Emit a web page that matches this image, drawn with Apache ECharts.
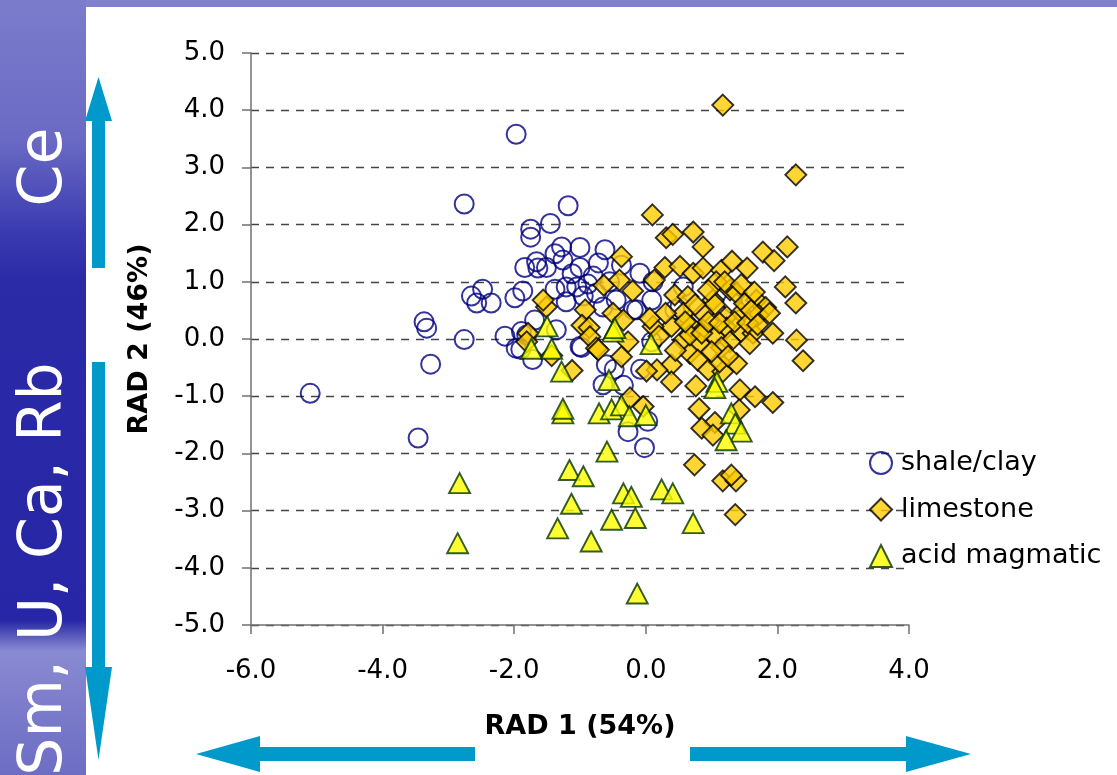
<!DOCTYPE html>
<html><head><meta charset="utf-8">
<script src="https://cdn.jsdelivr.net/npm/echarts@6/dist/echarts.min.js"></script>
<style>html,body{margin:0;padding:0;background:#fff}#c{width:1117px;height:775px}</style>
</head><body><div id="c"></div>
<script>
// ---- data ----
const seriesNames = ['shale/clay', 'limestone', 'acid magmatic'];
const xAxisName = 'RAD 1 (54%)';
const yAxisName = 'RAD 2 (46%)';
const xTickLabels = ['-6.0', '-4.0', '-2.0', '0.0', '2.0', '4.0'];
const yTickLabels = ['-5.0', '-4.0', '-3.0', '-2.0', '-1.0', '0.0', '1.0', '2.0', '3.0', '4.0', '5.0'];
const sideTextUp = 'Ce';
const sideTextDown = 'Sm, U, Ca, Rb';

const shaleClay = [
  [-5.10,-0.95],[-3.46,-1.73],[-3.37,0.30],[-3.33,0.19],[-3.27,-0.44],[-2.76,2.36],[-2.76,-0.01],
  [-2.65,0.75],[-2.48,0.87],[-2.57,0.63],[-2.35,0.63],[-1.97,3.58],[-2.14,0.05],[-1.99,0.72],
  [-1.87,0.84],[-1.84,1.25],[-1.75,1.92],[-1.75,1.78],[-1.45,2.02],[-1.18,2.33],[-1.28,1.61],
  [-1.00,1.60],[-0.62,1.56],[-1.38,1.49],[-1.26,1.38],[-1.51,1.25],[-1.64,1.24],[-1.00,1.25],
  [-0.72,1.33],[-0.37,1.29],[-1.38,0.87],[-1.21,0.91],[-1.05,0.91],[-0.88,0.96],[-1.21,0.65],
  [-0.45,0.68],[-0.65,0.56],[-0.19,0.51],[-1.69,0.33],[-1.36,0.16],[-1.89,0.13],[-1.81,0.07],
  [-1.90,-0.18],[-1.72,-0.36],[-0.98,-0.15],[-0.09,1.15],[0.09,0.68],[-0.14,0.51],[0.44,0.51],
  [-0.60,-0.45],[-0.48,-0.53],[-0.65,-0.80],[-0.34,-0.81],[-0.08,-0.53],[0.03,-1.44],[-0.27,-1.62],
  [-0.02,-1.90],[0.09,-0.05],[0.57,0.91],[0.52,0.56],[1.32,0.63],[-1.66,1.35],[0.11,1.00],
  [-1.12,1.14],[-0.80,1.10],[-0.55,1.00],[-0.95,0.75],[-0.75,0.80],[-1.97,-0.16],[-1.00,-0.13]
];
const limestone = [
  [1.17,4.09],[2.28,2.87],[0.10,2.17],[0.31,1.77],[0.41,1.83],[0.72,1.87],[0.87,1.61],[1.78,1.52],
  [1.95,1.37],[2.15,1.61],[2.12,0.91],[2.28,0.63],[2.29,-0.02],[2.39,-0.38],[0.13,1.03],[0.29,1.25],
  [0.52,1.27],[0.72,1.15],[0.87,1.24],[1.15,1.20],[1.31,1.36],[1.54,1.24],[1.07,1.00],[1.28,0.86],
  [1.38,0.80],[0.44,0.77],[0.64,0.74],[1.02,0.68],[1.05,0.60],[1.68,0.68],[1.82,0.55],[0.57,0.45],
  [0.87,0.45],[1.23,0.39],[1.45,0.46],[1.71,0.42],[1.88,0.45],[0.39,0.22],[0.69,0.22],[0.87,0.16],
  [1.23,0.19],[1.45,0.13],[1.63,0.10],[1.93,0.10],[0.11,0.22],[0.06,0.36],[0.57,-0.02],[1.05,0.04],
  [1.28,-0.05],[1.58,-0.08],[0.82,-0.08],[0.67,-0.25],[0.79,-0.37],[0.95,-0.54],[1.17,-0.57],
  [1.38,-0.43],[1.43,-0.89],[1.66,-1.01],[1.93,-1.11],[0.39,-0.45],[0.17,-0.54],[0.01,-0.56],
  [0.39,-0.75],[0.76,-0.82],[0.81,-1.22],[1.05,-1.46],[0.85,-1.56],[1.02,-1.68],[1.42,-1.24],
  [0.74,-2.20],[1.17,-2.48],[1.37,-2.48],[1.30,-2.38],[1.36,-3.07],[-0.04,-1.18],[-0.24,-1.03],
  [-1.51,0.56],[-1.56,0.68],[-1.79,0.10],[-1.81,-0.05],[-1.43,-0.29],[-1.12,-0.55],[-0.92,0.51],
  [-0.97,0.24],[-0.86,0.20],[-0.85,0.04],[-0.75,-0.16],[-0.50,0.45],[-0.34,0.33],[-0.27,-0.05],
  [-0.37,-0.31],[-0.72,-0.19],[0.67,0.07],[0.85,0.10],[1.12,-0.40],[-0.37,1.44],[-0.64,0.94],
  [-0.40,1.03],[-0.20,0.84],[0.95,0.30],[1.12,0.28],[1.35,0.30],[1.55,0.28],[1.15,-0.15],
  [1.00,-0.22],[1.25,-0.30],[0.60,0.30],[0.75,0.60],[1.50,0.62],[1.60,0.50],[0.95,0.85],
  [1.20,1.00],[1.45,0.95],[1.65,0.82],[0.30,0.45],[0.20,0.05],[0.45,-0.20],[1.70,0.25]
];
const acidMagmatic = [
  [-1.50,0.22],[-1.74,-0.17],[-1.43,-0.17],[-1.28,-0.57],[-0.50,0.13],[-0.47,0.19],[0.08,-0.09],
  [-0.56,-0.72],[-1.26,-1.30],[-1.26,-1.22],[-0.71,-1.30],[-0.52,-1.23],[-0.37,-1.16],[-0.25,-1.35],
  [0.00,-1.33],[1.08,-0.75],[1.05,-0.86],[1.30,-1.30],[1.36,-1.48],[1.45,-1.62],[1.22,-1.77],
  [-0.59,-1.97],[-1.16,-2.29],[-0.95,-2.40],[-2.83,-2.52],[-1.13,-2.88],[-1.34,-3.31],[-0.83,-3.54],
  [-2.86,-3.57],[-0.34,-2.70],[-0.22,-2.76],[0.24,-2.63],[0.41,-2.70],[-0.52,-3.16],[-0.16,-3.13],
  [0.72,-3.22],[-0.13,-4.45]
];

// ---- chart ----
const FONT = 'DejaVu Sans';
const fmt = v => (Math.abs(v) < 1e-9 ? 0 : v).toFixed(1);
const chart = echarts.init(document.getElementById('c'), null, {renderer: 'canvas'});

const leftStripFill = new echarts.graphic.LinearGradient(0, 0, 0, 1, [
  {offset: 0, color: '#7c7ccc'}, {offset: 0.18, color: '#6a6ac4'}, {offset: 0.3, color: '#3a3ab0'},
  {offset: 0.36, color: '#2b2ba8'}, {offset: 0.8, color: '#2626a6'}, {offset: 0.84, color: '#8a8ad2'},
  {offset: 0.9, color: '#7e7ecc'}, {offset: 1, color: '#6d6dc4'}
]);
const arrowColor = '#0099cc';

chart.setOption({
  animation: false,
  backgroundColor: '#ffffff',
  grid: {left: 251, right: 208, top: 53, bottom: 150, containLabel: false},
  xAxis: {
    type: 'value', min: -6, max: 4, interval: 2,
    name: xAxisName, nameLocation: 'middle', nameGap: 88,
    nameTextStyle: {fontFamily: FONT, fontSize: 27, fontWeight: 'bold', color: '#000'},
    axisLine: {onZero: false, lineStyle: {color: '#707070', width: 1.5}},
    axisTick: {show: true, length: 9, lineStyle: {color: '#707070', width: 1.5}},
    axisLabel: {margin: 33, fontFamily: FONT, fontSize: 26, color: '#000',
      formatter: v => xTickLabels.find(t => Math.abs(parseFloat(t) - v) < 1e-6) || fmt(v)},
    splitLine: {show: false}
  },
  yAxis: {
    type: 'value', min: -5, max: 5, interval: 1,
    name: yAxisName, nameLocation: 'middle', nameGap: 98, nameRotate: 90,
    nameTextStyle: {fontFamily: FONT, fontSize: 27, fontWeight: 'bold', color: '#000'},
    axisLine: {show: true, onZero: false, lineStyle: {color: '#707070', width: 1.5}},
    axisTick: {show: true, length: 9, lineStyle: {color: '#707070', width: 1.5}},
    axisLabel: {margin: 26, fontFamily: FONT, fontSize: 26, color: '#000',
      formatter: v => yTickLabels.find(t => Math.abs(parseFloat(t) - v) < 1e-6) || fmt(v)},
    splitLine: {show: true, lineStyle: {color: '#444444', width: 1.3, type: [8, 7]}}
  },
  legend: {
    orient: 'vertical', left: 869, top: 449, padding: 0,
    itemWidth: 22, itemHeight: 22, itemGap: 18.5,
    textStyle: {fontFamily: FONT, fontSize: 27, color: '#000', lineHeight: 28, padding: [0, 0, 0, 4]},
    data: seriesNames
  },
  series: [
    {name: seriesNames[0], type: 'scatter', data: shaleClay, symbol: 'circle', symbolSize: 19,
      itemStyle: {color: 'rgba(255,255,255,0)', borderColor: '#000080', borderWidth: 2},
      emphasis: {disabled: true}},
    {name: seriesNames[1], type: 'scatter', data: limestone, symbol: 'diamond', symbolSize: 21,
      itemStyle: {color: '#ffcc00', borderColor: '#000000', borderWidth: 1.9},
      emphasis: {disabled: true}},
    {name: seriesNames[2], type: 'scatter', data: acidMagmatic, symbol: 'triangle', symbolSize: [21, 20],
      itemStyle: {color: '#ffff00', borderColor: '#003300', borderWidth: 1.9},
      emphasis: {disabled: true}}
  ],
  graphic: [
    {type: 'rect', shape: {x: 0, y: 0, width: 1117, height: 7}, style: {fill: '#8080cf'}, silent: true, z: -10},
    {type: 'rect', shape: {x: 0, y: 0, width: 86, height: 775}, style: {fill: leftStripFill}, silent: true, z: -9},
    {type: 'text', x: 45, y: 167, rotation: Math.PI / 2, silent: true,
      style: {text: sideTextUp, fill: '#ffffff', font: '60px "DejaVu Sans"', align: 'center', verticalAlign: 'middle'}},
    {type: 'text', x: 45, y: 569, rotation: Math.PI / 2, silent: true,
      style: {text: sideTextDown, fill: '#ffffff', font: '60px "DejaVu Sans"', align: 'center', verticalAlign: 'middle'}},
    {type: 'polygon', silent: true, shape: {points: [[92,268],[105,268],[105,121],[112,121],[98.5,77],[85,121],[92,121]]}, style: {fill: arrowColor}},
    {type: 'polygon', silent: true, shape: {points: [[92,362],[105,362],[105,667],[112,667],[98.5,760],[85,667],[92,667]]}, style: {fill: arrowColor}},
    {type: 'polygon', silent: true, shape: {points: [[475,747],[475,761],[260,761],[260,772],[196,754],[260,736],[260,747]]}, style: {fill: arrowColor}},
    {type: 'polygon', silent: true, shape: {points: [[690,747],[906,747],[906,736],[971,754],[906,772],[906,761],[690,761]]}, style: {fill: arrowColor}}
  ]
});
</script></body></html>
